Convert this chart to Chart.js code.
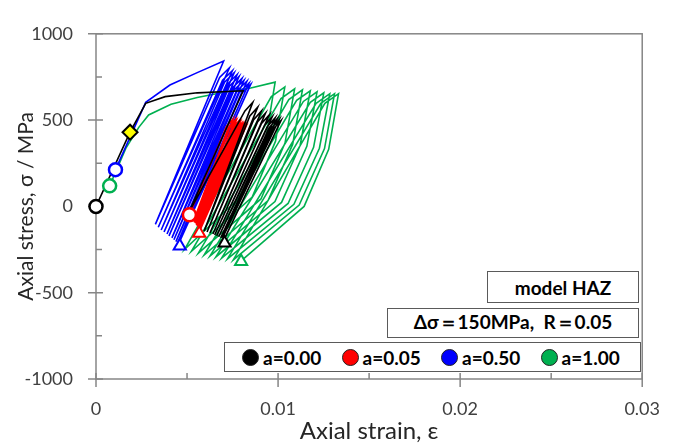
<!DOCTYPE html>
<html>
<head>
<meta charset="utf-8">
<title>Axial stress - strain, model HAZ</title>
<script src="https://cdn.jsdelivr.net/npm/chart.js@4.4.1/dist/chart.umd.min.js"></script>
<style>
  html, body { margin: 0; padding: 0; background: #fff; }
  #wrap { position: relative; width: 679px; height: 443px; }
  #chart { position: absolute; left: 0; top: 0; }
  .note {
    position: absolute; box-sizing: border-box; border: 1px solid #5a5a5a; background: #fff;
    font: bold 19px Lato, sans-serif; color: #000; white-space: pre;
    display: flex; align-items: center; justify-content: center;
  }
  #note-model { left: 487px; top: 271px; width: 152px; height: 32px; }
  #note-load  { left: 387px; top: 308px; width: 252px; height: 30px; }
  #legend     { left: 224px; top: 342px; width: 417px; height: 30px; justify-content: flex-start; padding-left: 17px; }
  .item { display: flex; align-items: center; width: 101px; }
  .dot  { width: 17px; height: 17px; border-radius: 50%; box-sizing: border-box; border: 1px solid #222; margin-right: 4px; }
</style>
</head>
<body>
<div id="wrap">
  <canvas id="chart" width="679" height="443"></canvas>
  <div class="note" id="note-model">model HAZ</div>
  <div class="note" id="note-load">Δσ＝150MPa,  R＝0.05</div>
  <div class="note" id="legend"></div>
</div>
<script>
// Stress-strain paths: strain (-) and axial stress (MPa)

// a = 0.00 : monotonic loading, unloading, then cycles
const blackStrain = [0, 0.00187, 0.00273, 0.00380, 0.00556, 0.00808, 0.00510,
  0.00818, 0.00861, 0.00594, 0.00845, 0.00888, 0.00610, 0.00866, 0.00909, 0.00626,
  0.00888, 0.00931, 0.00642, 0.00909, 0.00952, 0.00652, 0.00925, 0.00968, 0.00663,
  0.00941, 0.00984, 0.00674, 0.00952, 0.00995, 0.00685, 0.00963, 0.01005, 0.00695,
  0.00973, 0.01016, 0.00706];
const blackStress = [0, 430, 597, 636, 658, 670, -35,
  553, 603, -143, 524, 575, -148, 502, 553, -154,
  491, 541, -160, 480, 530, -165, 469, 519, -171,
  463, 513, -176, 458, 508, -182, 452, 502, -182,
  447, 497, -187];

// a = 0.05
const redStrain = [0.00513, 0.00717, 0.00754, 0.00535, 0.00727, 0.00765, 0.00540,
  0.00733, 0.00770, 0.00545, 0.00743, 0.00781, 0.00551, 0.00749, 0.00786, 0.00551,
  0.00754, 0.00791, 0.00556, 0.00759, 0.00797, 0.00562, 0.00765, 0.00802, 0.00562,
  0.00770, 0.00808, 0.00567, 0.00775, 0.00813, 0.00567, 0.00781, 0.00818, 0.00572,
  0.00786, 0.00824, 0.00572];
const redStress = [-48, 463, 508, -87, 458, 502, -93,
  452, 497, -98, 447, 491, -104, 441, 486, -109,
  441, 486, -115, 436, 480, -121, 430, 475, -126,
  430, 475, -126, 424, 469, -132, 424, 469, -132,
  419, 463, -137];

// a = 0.50
const blueStrain = [0.00107, 0.00273, 0.00406, 0.00556, 0.00701, 0.00326,
  0.00679, 0.00733, 0.00342, 0.00695, 0.00749, 0.00358, 0.00706, 0.00759, 0.00374,
  0.00722, 0.00775, 0.00390, 0.00733, 0.00786, 0.00401, 0.00749, 0.00802, 0.00417,
  0.00759, 0.00813, 0.00428, 0.00775, 0.00829, 0.00439, 0.00786, 0.00840, 0.00449,
  0.00797, 0.00850, 0.00455];
const blueStress = [213, 603, 703, 775, 842, -104,
  747, 803, -121, 731, 786, -137, 720, 775, -148,
  708, 764, -160, 697, 753, -171, 686, 742, -182,
  675, 731, -193, 670, 725, -204, 658, 714, -210,
  653, 708, -215];

// a = 1.00
const greenStrain = [0.00075, 0.00166, 0.00235, 0.00289, 0.00412, 0.00556, 0.00717, 0.00850,
  0.00984, 0.00934, 0.00810, 0.00487,
  0.00963, 0.01037, 0.00986, 0.00858, 0.00524,
  0.01016, 0.01091, 0.01038, 0.00906, 0.00562,
  0.01059, 0.01134, 0.01080, 0.00945, 0.00594,
  0.01102, 0.01177, 0.01121, 0.00983, 0.00626,
  0.01139, 0.01214, 0.01158, 0.01019, 0.00658,
  0.01177, 0.01251, 0.01195, 0.01055, 0.00690,
  0.01209, 0.01284, 0.01227, 0.01087, 0.00722,
  0.01235, 0.01310, 0.01255, 0.01116, 0.00754,
  0.01257, 0.01332, 0.01278, 0.01143, 0.00791];
const greenStress = [119, 341, 458, 530, 592, 631, 664, 686,
  720, 400, 71, -249,
  636, 692, 378, 54, -260,
  625, 681, 367, 43, -271,
  619, 675, 359, 34, -282,
  614, 670, 353, 28, -288,
  608, 664, 348, 23, -293,
  603, 658, 342, 17, -299,
  597, 653, 337, 12, -304,
  597, 653, 335, 8, -310,
  597, 653, 331, 0, -321];

// start markers (open circles) and end markers (open triangles): a=0.00, 0.05, 0.50, 1.00
const startStrain = [0, 0.00513, 0.00107, 0.00075];
const startStress = [0, -48, 213, 119];
const endStrain = [0.00706, 0.00567, 0.00460, 0.00797];
const endStress = [-212, -155, -230, -319];
const yieldStrain = [0.00187];
const yieldStress = [430];

const seriesNames = ['a=0.00', 'a=0.05', 'a=0.50', 'a=1.00'];
const xTicks = [0, 0.01, 0.02, 0.03];
const xTickLabels = ['0', '0.01', '0.02', '0.03'];
const xMinor = [0.005, 0.015, 0.025];
const yTicks = [-1000, -500, 0, 500, 1000];
const yTickLabels = ['-1000', '-500', '0', '500', '1000'];
const yMinor = [-750, -250, 250, 750];

const colors = ['#000000', '#ff0000', '#0000ff', '#00b050'];
const axisGrey = '#868686';
const textGrey = '#404040';

function pts(xs, ys) {
  return xs.map((x, i) => ({ x: x, y: ys[i] }));
}

function pathSet(label, xs, ys, color, order) {
  return {
    label: label,
    data: pts(xs, ys),
    showLine: true,
    borderColor: color,
    borderWidth: 1.6,
    pointRadius: 0,
    pointHoverRadius: 0,
    order: order
  };
}

// axes frame with excel style crossing ticks
const frameTicks = {
  id: 'frameTicks',
  beforeDatasetsDraw(chart) {
    const { ctx, chartArea: a, scales: { x, y } } = chart;
    ctx.save();
    ctx.strokeStyle = axisGrey;
    ctx.lineWidth = 1.5;
    ctx.strokeRect(a.left, a.top, a.right - a.left, a.bottom - a.top);
    ctx.beginPath();
    yTicks.forEach(v => {
      const p = y.getPixelForValue(v);
      ctx.moveTo(a.left - 8, p); ctx.lineTo(a.left + 7, p);
    });
    yMinor.forEach(v => {
      const p = y.getPixelForValue(v);
      ctx.moveTo(a.left, p); ctx.lineTo(a.left + 6, p);
    });
    xTicks.forEach(v => {
      const p = x.getPixelForValue(v);
      ctx.moveTo(p, a.bottom + 8); ctx.lineTo(p, a.bottom - 6);
    });
    xMinor.forEach(v => {
      const p = x.getPixelForValue(v);
      ctx.moveTo(p, a.bottom); ctx.lineTo(p, a.bottom - 6);
    });
    ctx.stroke();
    ctx.restore();
  }
};

const ctx = document.getElementById('chart');

new Chart(ctx, {
  type: 'scatter',
  data: {
    datasets: [
      {
        label: 'yield',
        data: pts(yieldStrain, yieldStress),
        pointStyle: 'rectRot',
        pointRadius: 7.5,
        pointBackgroundColor: '#ffff00',
        pointBorderColor: '#000000',
        pointBorderWidth: 2,
        clip: false,
        order: 0
      },
      {
        label: 'start',
        data: pts(startStrain, startStress),
        pointStyle: 'circle',
        pointRadius: 6.5,
        pointBackgroundColor: '#ffffff',
        pointBorderColor: colors,
        pointBorderWidth: 2.5,
        clip: false,
        order: 0
      },
      {
        label: 'end',
        data: pts(endStrain, endStress),
        pointStyle: 'triangle',
        pointRadius: 7,
        pointBackgroundColor: '#ffffff',
        pointBorderColor: colors,
        pointBorderWidth: 2,
        clip: false,
        order: 0
      },
      pathSet(seriesNames[0], blackStrain, blackStress, colors[0], 1),
      pathSet(seriesNames[1], redStrain, redStress, colors[1], 2),
      pathSet(seriesNames[2], blueStrain, blueStress, colors[2], 3),
      pathSet(seriesNames[3], greenStrain, greenStress, colors[3], 4)
    ]
  },
  options: {
    responsive: false,
    animation: false,
    devicePixelRatio: 1,
    events: [],
    layout: { padding: { top: 19, right: 22, left: 0, bottom: 0 } },
    plugins: {
      legend: { display: false },
      tooltip: { enabled: false }
    },
    scales: {
      x: {
        type: 'linear',
        min: 0,
        max: 0.03,
        afterBuildTicks: s => { s.ticks = xTicks.map(v => ({ value: v })); },
        afterFit: s => { s.height = 64; },
        grid: { display: false, drawTicks: false },
        border: { display: false },
        ticks: {
          padding: 19,
          maxRotation: 0,
          autoSkip: false,
          color: textGrey,
          font: { family: 'Lato', size: 18 },
          callback: (v, i) => xTickLabels[i]
        },
        title: {
          display: true,
          text: 'Axial strain, ε',
          color: '#262626',
          font: { family: 'Lato', size: 24, lineHeight: 1 },
          padding: { top: 0, bottom: 0 }
        }
      },
      y: {
        type: 'linear',
        min: -1000,
        max: 1000,
        afterBuildTicks: s => { s.ticks = yTicks.map(v => ({ value: v })); },
        afterFit: s => { s.width = 96; },
        grid: { display: false, drawTicks: false },
        border: { display: false },
        ticks: {
          padding: 23,
          autoSkip: false,
          color: textGrey,
          font: { family: 'Lato', size: 18 },
          callback: (v, i) => yTickLabels[i]
        },
        title: {
          display: true,
          text: 'Axial stress, σ / MPa',
          color: '#262626',
          font: { family: 'Lato', size: 21, lineHeight: 1 },
          padding: { top: 16, bottom: 0 }
        }
      }
    }
  },
  plugins: [frameTicks]
});

// legend box built from the series names and colours
const legend = document.getElementById('legend');
seriesNames.forEach((name, i) => {
  const item = document.createElement('span');
  item.className = 'item';
  const dot = document.createElement('span');
  dot.className = 'dot';
  dot.style.background = colors[i];
  item.appendChild(dot);
  item.appendChild(document.createTextNode(name));
  legend.appendChild(item);
});
</script>
</body>
</html>
